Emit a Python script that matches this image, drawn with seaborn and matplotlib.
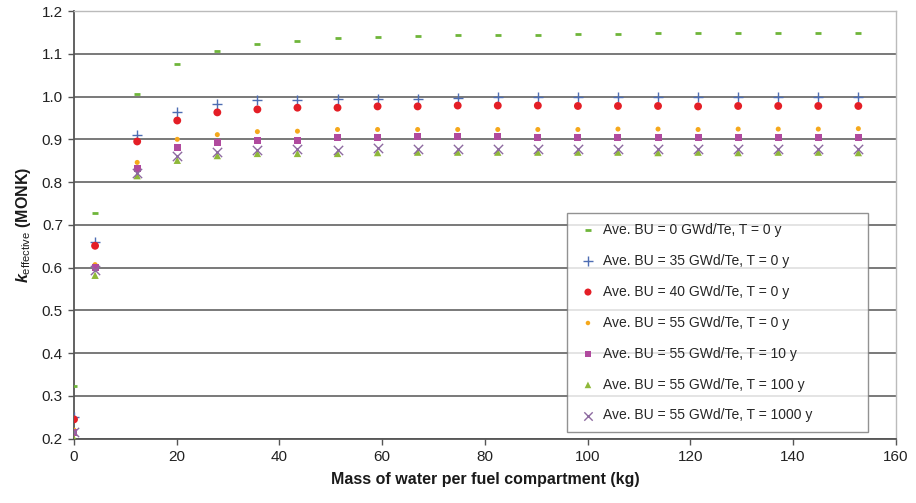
import matplotlib
matplotlib.use('Agg')
import matplotlib.pyplot as plt
import seaborn as sns
import pandas as pd

# mass of water per fuel compartment (kg)
mass = [0, 4.1, 12.3, 20.1, 27.9, 35.7, 43.5, 51.3, 59.1, 66.9, 74.7,
        82.5, 90.3, 98.1, 105.9, 113.7, 121.5, 129.3, 137.1, 144.9, 152.7]

k_bu0 = [0.322, 0.728, 1.005, 1.077, 1.106, 1.122, 1.131, 1.137, 1.140, 1.141, 1.143,
         1.144, 1.145, 1.146, 1.147, 1.148, 1.148, 1.148, 1.148, 1.149, 1.148]
k_bu35 = [0.250, 0.660, 0.911, 0.965, 0.982, 0.991, 0.993, 0.994, 0.995, 0.995, 0.997,
          0.998, 0.998, 0.998, 0.998, 0.998, 0.998, 0.998, 0.998, 0.998, 0.999]
k_bu40 = [0.245, 0.651, 0.895, 0.944, 0.963, 0.970, 0.974, 0.974, 0.977, 0.977, 0.979,
          0.979, 0.979, 0.978, 0.978, 0.978, 0.977, 0.978, 0.978, 0.978, 0.978]
k_bu55_t0 = [0.220, 0.607, 0.846, 0.900, 0.911, 0.918, 0.919, 0.923, 0.923, 0.923, 0.923,
             0.923, 0.923, 0.923, 0.924, 0.924, 0.923, 0.924, 0.924, 0.924, 0.925]
k_bu55_t10 = [0.215, 0.600, 0.831, 0.881, 0.893, 0.898, 0.898, 0.904, 0.904, 0.906, 0.906,
              0.906, 0.905, 0.905, 0.905, 0.905, 0.905, 0.905, 0.905, 0.905, 0.905]
k_bu55_t100 = [0.200, 0.582, 0.815, 0.851, 0.862, 0.867, 0.867, 0.867, 0.869, 0.870, 0.870,
               0.870, 0.870, 0.870, 0.870, 0.869, 0.870, 0.869, 0.870, 0.870, 0.869]
k_bu55_t1000 = [0.215, 0.595, 0.822, 0.860, 0.871, 0.876, 0.877, 0.876, 0.880, 0.877, 0.877,
                0.878, 0.877, 0.878, 0.877, 0.877, 0.877, 0.877, 0.877, 0.877, 0.877]

labels = ['Ave. BU = 0 GWd/Te, T = 0 y',
          'Ave. BU = 35 GWd/Te, T = 0 y',
          'Ave. BU = 40 GWd/Te, T = 0 y',
          'Ave. BU = 55 GWd/Te, T = 0 y',
          'Ave. BU = 55 GWd/Te, T = 10 y',
          'Ave. BU = 55 GWd/Te, T = 100 y',
          'Ave. BU = 55 GWd/Te, T = 1000 y']
series = [k_bu0, k_bu35, k_bu40, k_bu55_t0, k_bu55_t10, k_bu55_t100, k_bu55_t1000]

# marker, colour, size, line width (0 = filled marker)
styles = [('_', '#6fb53a', 20, 2.0),
          ('+', '#4d6db3', 55, 1.0),
          ('o', '#e41e26', 32, 0),
          ('o', '#f5a81c', 13, 0),
          ('s', '#b04a9e', 25, 0),
          ('^', '#8fb83a', 28, 0),
          ('x', '#8d6aa0', 45, 1.0)]

sns.set_theme(style='white')
plt.rcParams['font.family'] = ['Liberation Sans', 'DejaVu Sans']
plt.rcParams['mathtext.fontset'] = 'custom'
plt.rcParams['mathtext.rm'] = 'Liberation Sans'
plt.rcParams['mathtext.it'] = 'Liberation Sans:italic:bold'

fig, ax = plt.subplots(figsize=(9.16, 5.03), dpi=100)
fig.subplots_adjust(left=0.0808, right=0.978, bottom=0.128, top=0.978)

for vals, lab, (m, c, s, lw) in zip(series, labels, styles):
    df = pd.DataFrame({'mass': mass, 'k': vals})
    if lw > 0:
        sns.scatterplot(data=df, x='mass', y='k', marker=m, color=c, s=s,
                        linewidth=lw, ax=ax, label=lab, zorder=3)
    else:
        sns.scatterplot(data=df, x='mass', y='k', marker=m, color=c, s=s,
                        linewidth=0, edgecolor='none', ax=ax, label=lab, zorder=3)

ax.set_xlim(0, 160)
ax.set_ylim(0.2, 1.2)
ax.set_xticks(range(0, 161, 20))
ax.set_yticks([0.2 + 0.1 * i for i in range(11)])
ax.set_yticklabels(['%.1f' % (0.2 + 0.1 * i) for i in range(11)])
ax.yaxis.grid(True, color='#6e6e6e', linewidth=1.3, zorder=1)
ax.set_axisbelow(True)

for side in ['left', 'bottom']:
    ax.spines[side].set_color('#555555')
    ax.spines[side].set_linewidth(1.3)
for side in ['top', 'right']:
    ax.spines[side].set_color('#bbbbbb')
    ax.spines[side].set_linewidth(1.0)

ax.tick_params(axis='both', direction='out', length=4, width=1, color='#555555',
               labelsize=11, labelcolor='#222222', left=True, bottom=True, pad=4)

ax.set_xlabel('Mass of water per fuel compartment (kg)', fontsize=11.5,
              fontweight='bold', color='#1a1a1a', labelpad=6)
ax.set_ylabel(r'$k_{\mathrm{effective}}$ (MONK)', fontsize=11.5,
              fontweight='bold', color='#1a1a1a', labelpad=6)

leg = ax.legend(loc='lower left', bbox_to_anchor=(0.600, 0.015, 0.366, 0.5),
                mode='expand', borderaxespad=0, fontsize=10, frameon=True,
                fancybox=False, edgecolor='#777777', labelspacing=1.22,
                handlelength=1.6, handletextpad=0.25, borderpad=0.7,
                markerscale=0.9)
leg.get_frame().set_linewidth(1.0)

fig.savefig('out.png', dpi=100)
